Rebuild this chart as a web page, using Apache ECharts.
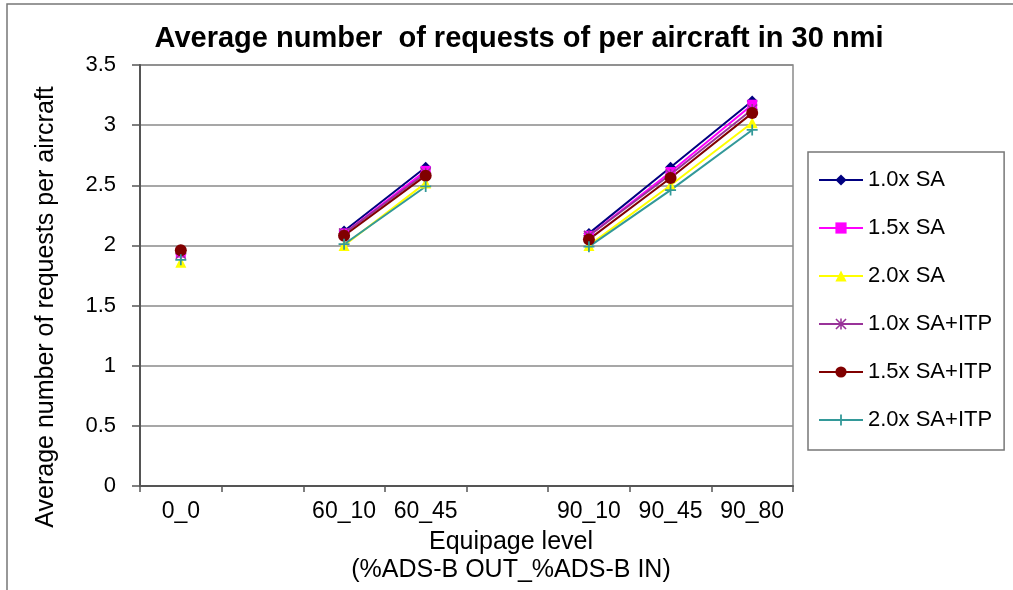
<!DOCTYPE html>
<html>
<head>
<meta charset="utf-8">
<script src="https://cdn.jsdelivr.net/npm/echarts@6/dist/echarts.min.js"></script>
<style>html,body{margin:0;padding:0;background:#fff}#c{width:1013px;height:590px}</style>
</head>
<body>
<div id="c"></div>
<script>
var categories = ['0_0', '', '60_10', '60_45', '', '90_10', '90_45', '90_80'];
var yTicks = { min: 0, max: 3.5, interval: 0.5 };
var seriesNames = ['1.0x SA', '1.5x SA', '2.0x SA', '1.0x SA+ITP', '1.5x SA+ITP', '2.0x SA+ITP'];
var sa10    = [1.96, null, 2.12, 2.65, null, 2.10, 2.65, 3.20];
var sa15    = [1.94, null, 2.10, 2.62, null, 2.08, 2.61, 3.17];
var sa20    = [1.86, null, 2.00, 2.52, null, 2.00, 2.50, 3.02];
var sa10itp = [1.93, null, 2.10, 2.60, null, 2.08, 2.59, 3.13];
var sa15itp = [1.96, null, 2.08, 2.58, null, 2.05, 2.56, 3.10];
var sa20itp = [1.88, null, 2.01, 2.49, null, 1.99, 2.46, 2.96];

var FONT = '"Liberation Sans", Arial, sans-serif';
var asterisk = 'path://M4.3,0H5.7V10H4.3Z M0,4.3H10V5.7H0Z M0,1L1,0L10,9L9,10Z M9,0L10,1L1,10L0,9Z';
var plus = 'path://M4.2,0H5.8V4.2H10V5.8H5.8V10H4.2V5.8H0V4.2H4.2Z';
var styles = [
  { color: '#000080', symbol: 'diamond', size: 11 },
  { color: '#FF00FF', symbol: 'rect', size: 10 },
  { color: '#FFFF00', symbol: 'triangle', size: 11 },
  { color: '#993399', symbol: asterisk, size: 11 },
  { color: '#800000', symbol: 'circle', size: 12 },
  { color: '#339999', symbol: plus, size: 11 }
];
var datas = [sa10, sa15, sa20, sa10itp, sa15itp, sa20itp];

var series = datas.map(function (d, i) {
  return {
    name: seriesNames[i],
    type: 'line',
    data: d,
    connectNulls: false,
    showSymbol: true,
    showAllSymbol: true,
    symbol: styles[i].symbol,
    symbolSize: styles[i].size,
    lineStyle: { color: styles[i].color, width: 2 },
    itemStyle: { color: styles[i].color, borderWidth: 0 },
    emphasis: { disabled: true },
    animation: false
  };
});

var chart = echarts.init(document.getElementById('c'));
chart.setOption({
  animation: false,
  backgroundColor: '#fff',
  title: {
    text: 'Average number  of requests of per aircraft in 30 nmi',
    left: 514, top: 19, textAlign: 'center',
    textStyle: { fontFamily: FONT, fontSize: 29, fontWeight: 'bold', color: '#000' }
  },
  grid: { left: 140, top: 65, right: 220, bottom: 104, show: true, borderColor: '#8a8a8a', borderWidth: 1.5 },
  legend: {
    orient: 'vertical', left: 808, top: 152,
    itemWidth: 44, itemHeight: 14, itemGap: 26,
    padding: [17, 12, 19, 10],
    borderColor: '#777', borderWidth: 1.5,
    textStyle: { fontFamily: FONT, fontSize: 22, lineHeight: 22, color: '#000' },
    data: seriesNames
  },
  xAxis: {
    type: 'category', data: categories, boundaryGap: true,
    axisLine: { lineStyle: { color: '#555', width: 2 } },
    axisTick: { show: true, interval: 0, length: 6, inside: false, lineStyle: { color: '#555', width: 1.5 } },
    axisLabel: { interval: 0, margin: 14, fontFamily: FONT, fontSize: 23, color: '#000' },
    splitLine: { show: false }
  },
  yAxis: {
    type: 'value', min: yTicks.min, max: yTicks.max, interval: yTicks.interval,
    axisLine: { show: true, lineStyle: { color: '#555', width: 2 } },
    axisTick: { show: true, length: 8, lineStyle: { color: '#555', width: 1.5 } },
    axisLabel: { margin: 24, fontFamily: FONT, fontSize: 22, color: '#000' },
    splitLine: { show: true, lineStyle: { color: '#8a8a8a', width: 1.5 } }
  },
  graphic: [
    { type: 'rect', shape: { x: 7, y: 4, width: 1020, height: 600 }, style: { fill: 'none', stroke: '#777', lineWidth: 1.5 }, silent: true, z: -1 },
    { type: 'text', x: 511, y: 542, style: { text: 'Equipage level', fontFamily: FONT, fontSize: 25, fill: '#000', textAlign: 'center', textVerticalAlign: 'middle' } },
    { type: 'text', x: 511, y: 570, style: { text: '(%ADS-B OUT_%ADS-B IN)', fontFamily: FONT, fontSize: 25, fill: '#000', textAlign: 'center', textVerticalAlign: 'middle' } },
    { type: 'text', x: 46, y: 307, rotation: Math.PI / 2, style: { text: 'Average number of requests per aircraft', fontFamily: FONT, fontSize: 25, fill: '#000', textAlign: 'center', textVerticalAlign: 'middle' } }
  ],
  series: series
});
</script>
</body>
</html>
